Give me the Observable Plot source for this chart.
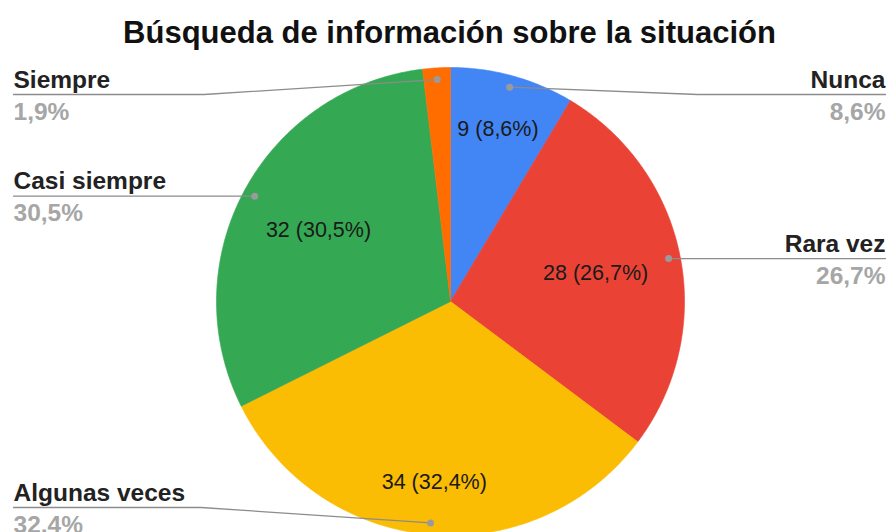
<!DOCTYPE html>
<html>
<head>
<meta charset="utf-8">
<script src="https://cdn.jsdelivr.net/npm/d3@7"></script>
<script src="https://cdn.jsdelivr.net/npm/@observablehq/plot@0.6"></script>
<style>
  html, body { margin: 0; padding: 0; background: #fff; overflow: hidden; }
  #chart svg { display: block; }
</style>
</head>
<body>
<div id="chart"></div>
<script>
// ---- data ----
const title = "Búsqueda de información sobre la situación";
const categories = ["Nunca", "Rara vez", "Algunas veces", "Casi siempre", "Siempre"];
const counts = [9, 28, 34, 32, 2];
const colors = ["#4285F4", "#EA4335", "#FBBC04", "#34A853", "#FF6D01"];

// ---- layout ----
const W = 890, H = 532;
const CX = 450, CY = 301, R = 234;
const LEFT = 13, RIGHT = 885, TOPY = 94, BOTY = 507;
const FONT = "'Liberation Sans', Arial, Helvetica, sans-serif";
const INNER_SIZE = 21.5, OUTER_SIZE = 24.5;

const total = d3.sum(counts);
const fmtPct = v => (v / total * 100).toFixed(1).replace(".", ",") + "%";

const arcs = d3.pie().sort(null).startAngle(0).endAngle(2 * Math.PI)(counts);
const pt = (a, r) => ({x: CX + r * Math.sin(a), y: CY - r * Math.cos(a)});

// slice polygons
const slicePts = [];
arcs.forEach((a, i) => {
  const name = categories[i];
  slicePts.push({name, color: colors[i], ...pt(0, 0)});
  const n = Math.max(2, Math.ceil((a.endAngle - a.startAngle) / 0.01));
  for (let k = 0; k <= n; k++) {
    const t = a.startAngle + (a.endAngle - a.startAngle) * k / n;
    slicePts.push({name, color: colors[i], ...pt(t, R)});
  }
  slicePts.push({name, color: colors[i], ...pt(0, 0)});
});

// text measurement for label placement
const ctx = document.createElement("canvas").getContext("2d");
ctx.font = `${INNER_SIZE}px ${FONT}`;

// inner labels: the box's far corner sits at ~0.86 R along the slice's mid direction
const inner = arcs.map((a, i) => {
  const m = (a.startAngle + a.endAngle) / 2;
  const label = `${counts[i]} (${fmtPct(counts[i])})`;
  const hw = ctx.measureText(label).width / 2, hh = 9;
  const sx = Math.sin(m), sy = -Math.cos(m);
  const ox = Math.sign(sx) * hw, oy = Math.sign(sy) * hh;
  const T = R * 0.86;
  const b = sx * ox + sy * oy, c = ox * ox + oy * oy - T * T;
  const t = -b + Math.sqrt(b * b - c);
  return {label, x: CX + t * sx, y: CY + t * sy, i};
}).filter(d => counts[d.i] / total > 0.05);

// outer labels with leader lines
const outer = arcs.map((a, i) => {
  const m = (a.startAngle + a.endAngle) / 2;
  const dot = pt(m, R * 0.95);
  const right = Math.sin(m) > 0;
  const ly = Math.min(BOTY, Math.max(TOPY, dot.y));
  const ex = right ? RIGHT : LEFT;
  const bx = right ? RIGHT - (RIGHT - dot.x) * 0.5 : LEFT + (dot.x - LEFT) * 0.45;
  return {name: categories[i], pct: fmtPct(counts[i]), dot, ly, ex, bx, right};
});
const outerL = outer.filter(d => !d.right), outerR = outer.filter(d => d.right);
const leader = outer.flatMap(o => [
  {name: o.name, x: o.dot.x, y: o.dot.y},
  {name: o.name, x: o.bx, y: o.ly},
  {name: o.name, x: o.ex, y: o.ly}
]);

const nameOpts = anchor => ({x: "ex", y: d => d.ly - 7, text: "name", textAnchor: anchor,
  lineAnchor: "bottom", fontSize: OUTER_SIZE, fontWeight: "bold", fill: "#222", fontFamily: FONT});
const pctOpts = anchor => ({x: "ex", y: d => d.ly + 25, text: "pct", textAnchor: anchor,
  lineAnchor: "bottom", fontSize: OUTER_SIZE, fontWeight: "bold", fill: "#a6a6a6", fontFamily: FONT});

const chart = Plot.plot({
  width: W, height: H,
  margin: 0,
  x: {domain: [0, W], range: [0, W], axis: null},
  y: {domain: [0, H], range: [0, H], axis: null},
  color: {type: "identity"},
  style: {fontFamily: FONT, background: "#fff"},
  marks: [
    Plot.line(slicePts, {x: "x", y: "y", z: "name", fill: "color", stroke: "color", strokeWidth: 0.6}),
    Plot.text(inner, {x: "x", y: "y", text: "label", fontSize: INNER_SIZE, fill: "#1a1a1a", fontFamily: FONT}),
    Plot.line(leader, {x: "x", y: "y", z: "name", stroke: "#8c8c8c", strokeWidth: 1.3}),
    Plot.dot(outer, {x: d => d.dot.x, y: d => d.dot.y, r: 3.5, fill: "#9a9a9a", stroke: null}),
    Plot.text(outerL, nameOpts("start")),
    Plot.text(outerR, nameOpts("end")),
    Plot.text(outerL, pctOpts("start")),
    Plot.text(outerR, pctOpts("end")),
    Plot.text([title], {x: [449], y: [42], text: d => d, lineAnchor: "bottom", fontSize: 31,
      fontWeight: "bold", fill: "#111", fontFamily: FONT})
  ]
});
document.getElementById("chart").appendChild(chart);
</script>
</body>
</html>
